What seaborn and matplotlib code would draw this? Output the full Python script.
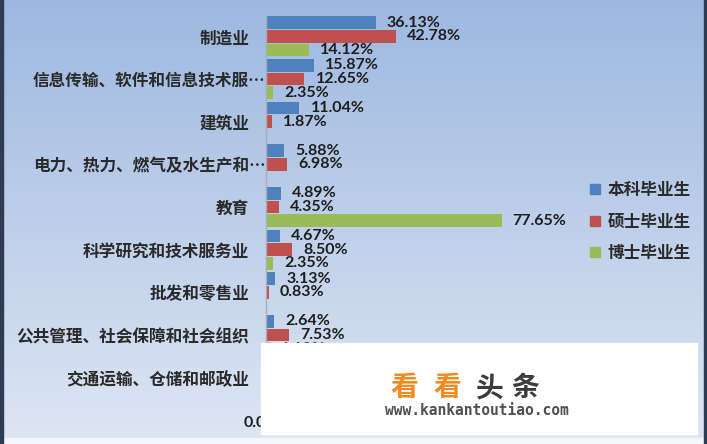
import numpy as np
import pandas as pd
import matplotlib
matplotlib.use("Agg")
import matplotlib.pyplot as plt
import matplotlib.transforms as mtrans
from matplotlib.lines import Line2D
from matplotlib.patches import Rectangle
import seaborn as sns

# ---------------- data ----------------
categories = [
    "制造业",
    "信息传输、软件和信息技术服…",
    "建筑业",
    "电力、热力、燃气及水生产和…",
    "教育",
    "科学研究和技术服务业",
    "批发和零售业",
    "公共管理、社会保障和社会组织",
    "交通运输、仓储和邮政业",
]
series_names = ["本科毕业生", "硕士毕业生", "博士毕业生"]
bachelor = [36.13, 15.87, 11.04, 5.88, 4.89, 4.67, 3.13, 2.64, 2.40]
master = [42.78, 12.65, 1.87, 6.98, 4.35, 8.50, 0.83, 7.53, 1.50]
doctor = [14.12, 2.35, np.nan, np.nan, 77.65, 2.35, np.nan, 1.18, np.nan]
x_ticks = [0]
colors = ["#4F81BD", "#C0504D", "#9BBB59"]

rows = []
for name, vals in zip(series_names, [bachelor, master, doctor]):
    for c, v in zip(categories, vals):
        if not np.isnan(v):
            rows.append({"行业": c, "类别": name, "比例": v})
df = pd.DataFrame(rows)

# ---------------- figure ----------------
sns.set_theme(style="white")
plt.rcParams["font.family"] = ["Noto Sans CJK SC", "DejaVu Sans"]

W, H, DPI = 707, 444, 100
fig = plt.figure(figsize=(W / DPI, H / DPI), dpi=DPI)

# background gradient
bg = fig.add_axes([0, 0, 1, 1], zorder=-10)
top = np.array([157, 184, 224]) / 255
bot = np.array([222, 230, 243]) / 255
n = 444
t = np.linspace(0, 1, n)[:, None]
grad = (top[None, :] * (1 - t) + bot[None, :] * t)[:, None, :]
grad = np.repeat(grad, 2, axis=1)
bg.imshow(grad, aspect="auto", extent=[0, W, 0, H], origin="upper")
bg.add_patch(Rectangle((0, 0), W, 6, color="#f4f6fa", zorder=2))
bg.add_patch(Rectangle((0, 0), 3, H, color="#2e3b52", zorder=3))
bg.add_patch(Rectangle((W - 3, 0), 3, H, color="#2e3b52", zorder=3))
bg.set_xlim(0, W)
bg.set_ylim(0, H)
bg.axis("off")

def fx(px):
    return px / W

def fy(py):
    return 1 - py / H

left, right, topp, botp = 266, 539, 15, 399
ax = fig.add_axes([fx(left), fy(botp), fx(right - left), (botp - topp) / H])
ax.set_facecolor("none")

sns.barplot(
    data=df, y="行业", x="比例", hue="类别", order=categories,
    hue_order=series_names, palette=colors, orient="h",
    width=0.96, gap=0.08, ax=ax, legend=False, saturation=1,
    linewidth=0, edgecolor="none",
)

for cont in ax.containers:
    ax.bar_label(
        cont, labels=[f"{b.get_width():.2f}%" for b in cont], padding=8,
        fontsize=11.5, color="#1e1e1e", family=["Lato", "DejaVu Sans"],
        weight="bold",
    )

ax.set_xlim(0, 90)
ax.set_xticks(x_ticks)
ax.set_xticklabels([f"{v:.2f}%" for v in x_ticks], fontsize=11.5,
                   color="#1e1e1e", family=["Lato", "DejaVu Sans"], weight="bold")
ax.tick_params(axis="x", length=0, pad=12)
ax.tick_params(axis="y", length=0, pad=12)
ax.set_yticks(range(len(categories)))
ax.set_yticklabels(categories, fontsize=12, color="#2a2a2a", weight="bold")
ax.set_xlabel("")
ax.set_ylabel("")
for s in ["top", "right", "bottom"]:
    ax.spines[s].set_visible(False)
ax.spines["left"].set_color("#a8aeb8")
ax.spines["left"].set_linewidth(1.0)

for lbl in ax.get_yticklabels():
    if lbl.get_text().endswith("…"):
        lbl.set_transform(lbl.get_transform() +
                          mtrans.ScaledTranslation(16 / DPI, 0, fig.dpi_scale_trans))

# legend
handles = [Line2D([], [], marker="s", linestyle="", markersize=6.5,
                  markerfacecolor=c, markeredgecolor=c) for c in colors]
fig.legend(handles, series_names, loc="upper left",
           bbox_to_anchor=(fx(590), fy(181)), frameon=False,
           labelspacing=0.82, handlelength=0.6,
           handletextpad=0.45, borderaxespad=0, borderpad=0,
           labelcolor="#2a2a2a", prop={"size": 12, "weight": "bold"})

# watermark box
wm = fig.add_axes([0, 0, 1, 1], zorder=20)
wm.set_xlim(0, W)
wm.set_ylim(H, 0)
wm.axis("off")
wm.add_patch(Rectangle((261, 343), 436, 91, color="white"))
for ch, cx, col in [("看", 404, "#f28a22"), ("看", 447, "#f28a22"),
                    ("头", 490, "#3c3c3c"), ("条", 525, "#3c3c3c")]:
    wm.text(cx, 388, ch, ha="center", va="center", fontsize=20,
            weight="bold", color=col)
wm.text(385, 410, "www.kankantoutiao.com", ha="left", va="center",
        fontsize=10.5, family="DejaVu Sans Mono", weight="bold", color="#505050")

fig.savefig("out.png", dpi=DPI)
